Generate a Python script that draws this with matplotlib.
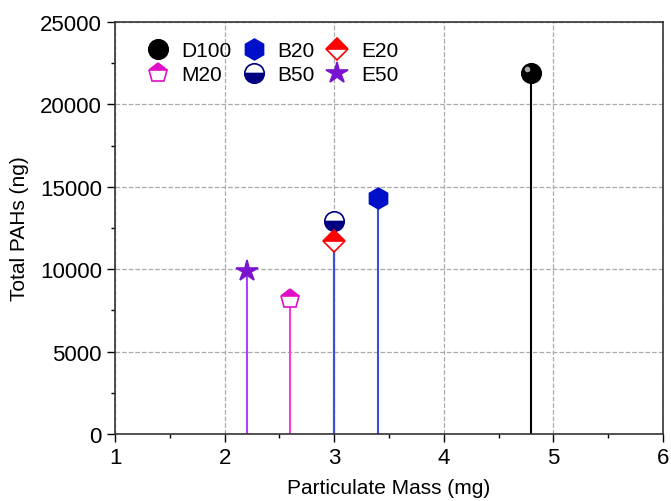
import matplotlib.pyplot as plt
from matplotlib.ticker import MultipleLocator

plt.rcParams["font.family"] = ["Liberation Sans", "DejaVu Sans"]

# ── Data ──────────────────────────────────────────────────────────────
names  = ["D100", "M20", "B20", "B50", "E20", "E50"]
mass   = [4.8, 2.6, 3.4, 3.0, 3.0, 2.2]
pahs   = [21900, 8200, 14300, 12900, 11700, 9900]

# ── Styles ────────────────────────────────────────────────────────────
styles = {
    "D100": dict(marker="o", color="black", mfc="black", mec="black", fillstyle="full"),
    "M20":  dict(marker="p", color="#e010c8", mfc="#e010c8", mec="#e010c8",
                 fillstyle="top", markerfacecoloralt="white"),
    "B20":  dict(marker="h", color="#0010c8", mfc="#0010c8", mec="#0010c8", fillstyle="full"),
    "B50":  dict(marker="o", color="#000080", mfc="#000080", mec="#000080",
                 fillstyle="bottom", markerfacecoloralt="white"),
    "E20":  dict(marker="D", color="#ff0000", mfc="#ff0000", mec="#ff0000",
                 fillstyle="top", markerfacecoloralt="white"),
    "E50":  dict(marker="*", color="#7a14d0", mfc="#7a14d0", mec="#7a14d0", fillstyle="full"),
}
stem_colors = {"D100": "black", "M20": "#f040d8", "B20": "#3a4ee0",
               "B50": "#3a4ee0", "E20": "#3a4ee0", "E50": "#b040ff"}
sizes = {"D100": 14, "M20": 14, "B20": 15, "B50": 14, "E20": 11, "E50": 16}

fig = plt.figure(figsize=(6.71, 5.02), dpi=100)
ax = fig.add_axes([0.1714, 0.1335, 0.8166, 0.8205])

for n, x, y in zip(names, mass, pahs):
    ax.vlines(x, 0, y, color=stem_colors[n], linewidth=1.5, zorder=2)

for n, x, y in zip(names, mass, pahs):
    s = styles[n]
    ax.plot([x], [y], linestyle="none", marker=s["marker"], markersize=sizes[n],
            markerfacecolor=s["mfc"], markeredgecolor=s["mec"],
            fillstyle=s["fillstyle"],
            markerfacecoloralt=s.get("markerfacecoloralt", "none"),
            markeredgewidth=1.2, label=n, zorder=3)
    if n == "D100":
        ax.plot([x - 0.04], [y + 250], "o", markersize=4, color="#aaaaaa",
                markeredgewidth=0, zorder=4)

ax.set_xlim(1, 6)
ax.set_ylim(0, 25000)
ax.xaxis.set_major_locator(MultipleLocator(1))
ax.xaxis.set_minor_locator(MultipleLocator(0.5))
ax.yaxis.set_major_locator(MultipleLocator(5000))
ax.yaxis.set_minor_locator(MultipleLocator(2500))
ax.tick_params(which="major", direction="out", length=6, width=1, labelsize=16)
ax.tick_params(which="minor", direction="out", length=3, width=1)
ax.grid(True, which="major", linestyle="--", color="#aaaaaa", linewidth=0.9)
ax.set_axisbelow(True)
for sp in ax.spines.values():
    sp.set_linewidth(1.2)
    sp.set_color("#333333")

ax.set_xlabel("Particulate Mass (mg)", fontsize=15, labelpad=7)
ax.set_ylabel("Total PAHs (ng)", fontsize=15, labelpad=8)

ax.legend(ncol=3, loc="upper left", bbox_to_anchor=(0.015, 1.0), frameon=False,
          fontsize=15, handletextpad=0.4, columnspacing=0.3, labelspacing=0.25,
          handlelength=1.5, borderaxespad=0.5)

plt.savefig("out.png", dpi=100)
